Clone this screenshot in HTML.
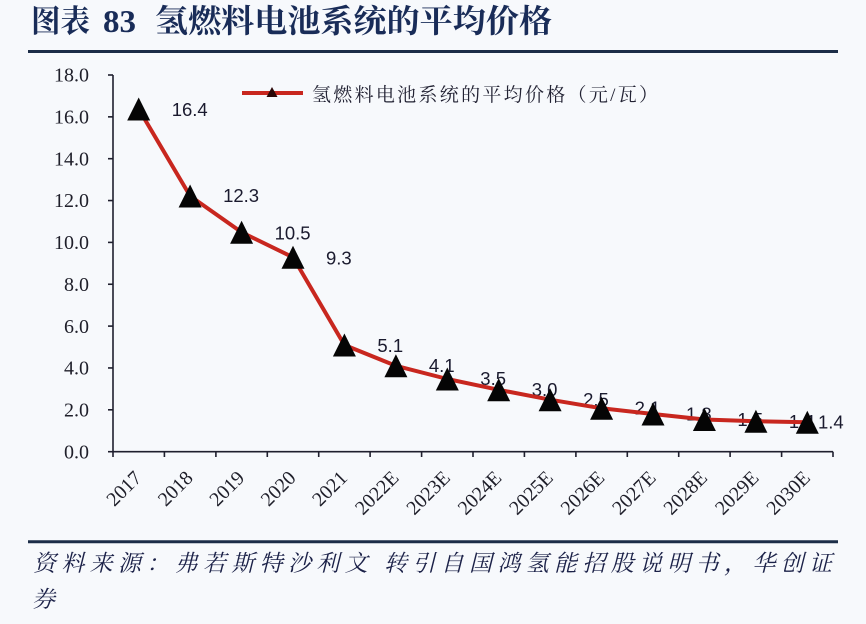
<!DOCTYPE html>
<html>
<head>
<meta charset="utf-8">
<style>
  html, body { margin: 0; padding: 0; background: #f7f9fc; }
  svg { display: block; }
</style>
</head>
<body>
<svg width="866" height="624" viewBox="0 0 866 624" xmlns="http://www.w3.org/2000/svg">
  <rect x="0" y="0" width="866" height="624" fill="#f7f9fc"/>

  <!-- Title -->
  <g fill="#192c58" font-weight="bold">
    <text x="31" y="32" font-family="'Noto Serif CJK SC', serif" font-size="31" textLength="59" lengthAdjust="spacingAndGlyphs">图表</text>
    <text x="103" y="32" font-family="'Liberation Serif', serif" font-size="32" textLength="33" lengthAdjust="spacingAndGlyphs">83</text>
    <text x="155" y="32" font-family="'Noto Serif CJK SC', serif" font-size="32" textLength="397" lengthAdjust="spacingAndGlyphs">氢燃料电池系统的平均价格</text>
  </g>
  <line x1="28" y1="51.5" x2="838" y2="51.5" stroke="#1c2d48" stroke-width="3"/>

  <!-- Y axis -->
  <g stroke="#1f1f2e" stroke-width="1.6">
    <line x1="113" y1="75" x2="113" y2="451.7"/>
    <line x1="108" y1="75" x2="113" y2="75"/>
    <line x1="108" y1="116.85" x2="113" y2="116.85"/>
    <line x1="108" y1="158.7" x2="113" y2="158.7"/>
    <line x1="108" y1="200.55" x2="113" y2="200.55"/>
    <line x1="108" y1="242.4" x2="113" y2="242.4"/>
    <line x1="108" y1="284.25" x2="113" y2="284.25"/>
    <line x1="108" y1="326.1" x2="113" y2="326.1"/>
    <line x1="108" y1="367.95" x2="113" y2="367.95"/>
    <line x1="108" y1="409.8" x2="113" y2="409.8"/>
    <line x1="108" y1="451.7" x2="113" y2="451.7"/>
    <!-- X axis -->
    <line x1="113" y1="451.7" x2="833" y2="451.7"/>
    <line x1="113" y1="451.7" x2="113" y2="457"/>
    <line x1="164.4" y1="451.7" x2="164.4" y2="457"/>
    <line x1="215.9" y1="451.7" x2="215.9" y2="457"/>
    <line x1="267.3" y1="451.7" x2="267.3" y2="457"/>
    <line x1="318.7" y1="451.7" x2="318.7" y2="457"/>
    <line x1="370.1" y1="451.7" x2="370.1" y2="457"/>
    <line x1="421.6" y1="451.7" x2="421.6" y2="457"/>
    <line x1="473" y1="451.7" x2="473" y2="457"/>
    <line x1="524.4" y1="451.7" x2="524.4" y2="457"/>
    <line x1="575.9" y1="451.7" x2="575.9" y2="457"/>
    <line x1="627.3" y1="451.7" x2="627.3" y2="457"/>
    <line x1="678.7" y1="451.7" x2="678.7" y2="457"/>
    <line x1="730.1" y1="451.7" x2="730.1" y2="457"/>
    <line x1="781.6" y1="451.7" x2="781.6" y2="457"/>
    <line x1="833" y1="451.7" x2="833" y2="457"/>
  </g>

  <!-- Y labels -->
  <g font-family="'Liberation Serif', serif" font-size="20" fill="#1f1f2a" text-anchor="end">
    <text x="89" y="81.7">18.0</text>
    <text x="89" y="123.5">16.0</text>
    <text x="89" y="165.4">14.0</text>
    <text x="89" y="207.2">12.0</text>
    <text x="89" y="249.1">10.0</text>
    <text x="89" y="290.9">8.0</text>
    <text x="89" y="332.8">6.0</text>
    <text x="89" y="374.6">4.0</text>
    <text x="89" y="416.5">2.0</text>
    <text x="89" y="458.4">0.0</text>
  </g>

  <!-- X labels -->
  <g font-family="'Liberation Serif', serif" font-size="20" fill="#1f1f2a" text-anchor="end">
    <text transform="translate(142.7,479) rotate(-45)">2017</text>
    <text transform="translate(194.1,479) rotate(-45)">2018</text>
    <text transform="translate(245.6,479) rotate(-45)">2019</text>
    <text transform="translate(297,479) rotate(-45)">2020</text>
    <text transform="translate(348.4,479) rotate(-45)">2021</text>
    <text transform="translate(399.9,479) rotate(-45)">2022E</text>
    <text transform="translate(451.3,479) rotate(-45)">2023E</text>
    <text transform="translate(502.7,479) rotate(-45)">2024E</text>
    <text transform="translate(554.1,479) rotate(-45)">2025E</text>
    <text transform="translate(605.6,479) rotate(-45)">2026E</text>
    <text transform="translate(657,479) rotate(-45)">2027E</text>
    <text transform="translate(708.4,479) rotate(-45)">2028E</text>
    <text transform="translate(759.9,479) rotate(-45)">2029E</text>
    <text transform="translate(811.3,479) rotate(-45)">2030E</text>
  </g>

  <!-- Data labels -->
  <g font-family="'Liberation Sans', sans-serif" font-size="18.5" fill="#1a1a2e">
    <text x="171.7" y="116">16.4</text>
    <text x="223.1" y="202">12.3</text>
    <text x="274.6" y="239.5">10.5</text>
    <text x="326" y="264.5">9.3</text>
    <text x="377.4" y="352">5.1</text>
    <text x="428.9" y="372">4.1</text>
    <text x="480.3" y="385">3.5</text>
    <text x="531.7" y="396">3.0</text>
    <text x="583.1" y="406">2.5</text>
    <text x="634.6" y="414.5">2.1</text>
    <text x="686" y="420.5">1.8</text>
    <text x="737.4" y="426">1.5</text>
    <text x="788.9" y="428">1.4</text>
    <text x="818" y="428.5">1.4</text>
  </g>

  <!-- Series line -->
  <polyline fill="none" stroke="#c8271f" stroke-width="4" stroke-linejoin="round"
    points="138.7,109 190.1,196 241.6,232.3 293,257.3 344.4,345 395.9,365.8 447.3,379 498.7,389.8 550.1,399.7 601.6,408.3 653,414 704.4,419.5 755.9,421.2 807.3,422.2"/>

  <!-- Markers -->
  <g fill="#050505">
    <polygon points="138.7,97.5 127.2,120.5 150.2,120.5"/>
    <polygon points="190.1,184.5 178.6,207.5 201.6,207.5"/>
    <polygon points="241.6,220.8 230.1,243.8 253.1,243.8"/>
    <polygon points="293,245.8 281.5,268.8 304.5,268.8"/>
    <polygon points="344.4,333.5 332.9,356.5 355.9,356.5"/>
    <polygon points="395.9,354.3 384.4,377.3 407.4,377.3"/>
    <polygon points="447.3,367.5 435.8,390.5 458.8,390.5"/>
    <polygon points="498.7,378.3 487.2,401.3 510.2,401.3"/>
    <polygon points="550.1,388.2 538.6,411.2 561.6,411.2"/>
    <polygon points="601.6,396.8 590.1,419.8 613.1,419.8"/>
    <polygon points="653,402.5 641.5,425.5 664.5,425.5"/>
    <polygon points="704.4,408 692.9,431 715.9,431"/>
    <polygon points="755.9,409.7 744.4,432.7 767.4,432.7"/>
    <polygon points="807.3,410.7 795.8,433.7 818.8,433.7"/>
  </g>

  <!-- Legend -->
  <line x1="242" y1="93" x2="303" y2="93" stroke="#c8271f" stroke-width="4"/>
  <polygon points="272,87 266.5,97 277.5,97" fill="#2a0707"/>
  <text x="312" y="101" font-family="'Liberation Serif', 'Noto Serif CJK SC', serif" font-size="19" fill="#222233" textLength="346" lengthAdjust="spacing">氢燃料电池系统的平均价格（元/瓦）</text>

  <!-- Footer -->
  <line x1="28" y1="541.7" x2="838" y2="541.7" stroke="#1c2d48" stroke-width="3"/>
  <g font-family="'Liberation Serif', 'Noto Serif CJK SC', serif" font-size="23" fill="#1b2148" font-style="italic">
    <text x="33" y="571" textLength="799" lengthAdjust="spacing">资料来源：弗若斯特沙利文 转引自国鸿氢能招股说明书，华创证</text>
    <text x="32" y="607">券</text>
  </g>
</svg>
</body>
</html>
